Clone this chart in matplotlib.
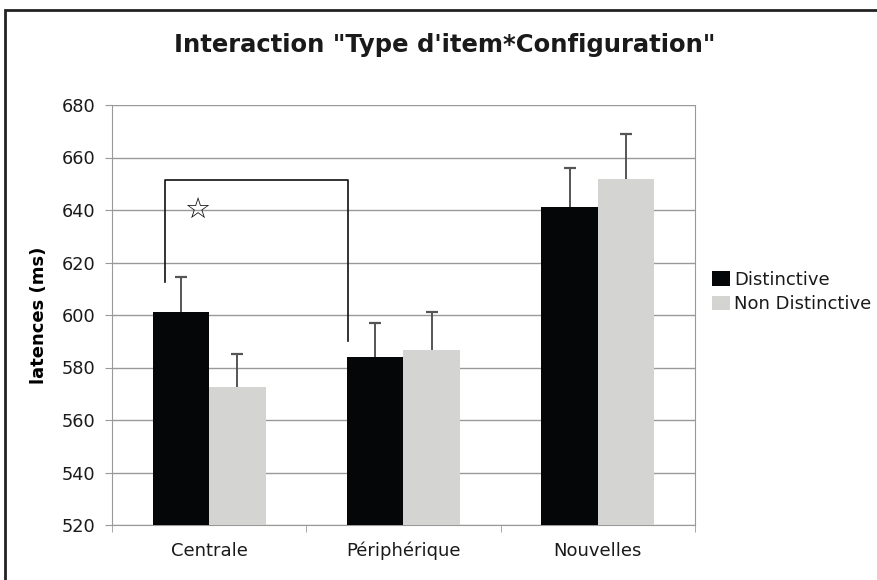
import numpy as np
import matplotlib
matplotlib.use('Agg')
import matplotlib.pyplot as plt
from matplotlib.patches import Rectangle

# données
categories = ['Centrale', 'Périphérique', 'Nouvelles']
distinctive = [601, 584, 641]
non_distinctive = [572.5, 586.5, 652]
err_distinctive = [13.5, 13, 15]
err_non_distinctive = [12.5, 14.5, 17]
yticks = [520, 540, 560, 580, 600, 620, 640, 660, 680]

plt.rcParams['font.family'] = ['DejaVu Sans']
plt.rcParams['text.color'] = '#1a1a1a'
plt.rcParams['xtick.labelcolor'] = '#1a1a1a'
plt.rcParams['ytick.labelcolor'] = '#1a1a1a'

fig = plt.figure(figsize=(8.78, 5.80), dpi=100)
ax = fig.add_axes([112 / 878, 1 - 525 / 580, 583 / 878, 420 / 580])

x = np.arange(len(categories))
w = 0.29
ax.bar(x - w / 2, distinctive, w, color='#050608', label='Distinctive', zorder=3)
ax.bar(x + w / 2, non_distinctive, w, color='#d4d4d2', label='Non Distinctive', zorder=3)

# barres d'erreur vers le haut seulement
for xs, vals, errs in [(x - w / 2, distinctive, err_distinctive),
                       (x + w / 2, non_distinctive, err_non_distinctive)]:
    tops = np.array(vals) + np.array(errs)
    ax.vlines(xs, vals, tops, color='#555555', lw=1.4, zorder=4)
    ax.plot(xs, tops, linestyle='none', marker='_', markersize=8, mew=1.6, color='#555555', zorder=4)

# crochet de significativité
ax.plot([-0.227, -0.227, 0.714, 0.714], [612.5, 651.5, 651.5, 590], color='#111111', lw=1.2, zorder=5)
ax.text(-0.063, 640, '☆', fontsize=21, ha='center', va='center', color='#111111', zorder=5)

ax.set_xlim(-0.5, 2.5)
ax.set_ylim(520, 680)
ax.set_yticks(yticks)
ax.set_xticks(x)
ax.set_xticklabels(categories, fontsize=13)
ax.set_xticks([-0.5, 0.5, 1.5, 2.5], minor=True)
ax.tick_params(axis='x', which='major', length=0, pad=12)
ax.tick_params(axis='x', which='minor', length=5, color='#999999')
ax.tick_params(axis='y', length=5, color='#999999', labelsize=12.8, pad=7)
ax.yaxis.grid(True, color='#999999', lw=1)
ax.set_axisbelow(True)
for side in ['left', 'bottom', 'right']:
    ax.spines[side].set_color('#999999')
ax.spines['top'].set_visible(False)
ax.set_ylabel('latences (ms)', fontsize=13, fontweight='bold', labelpad=10)

fig.text(445 / 878, 1 - 45 / 580, 'Interaction "Type d\'item*Configuration"',
         ha='center', va='center', fontsize=17.5, fontweight='bold')

ax.legend(loc='center left', bbox_to_anchor=(1.03, 0.555), frameon=False, fontsize=13,
          handlelength=0.95, handleheight=0.85, handletextpad=0.25, labelspacing=0.35, borderaxespad=0,
          borderpad=0)

# cadre extérieur
fig.patches.append(Rectangle((5 / 878, -0.1), 1.2, 1 - 10 / 580 + 0.1, transform=fig.transFigure,
                             fill=False, edgecolor='#222222', lw=2))

fig.savefig('out.png', dpi=100)
